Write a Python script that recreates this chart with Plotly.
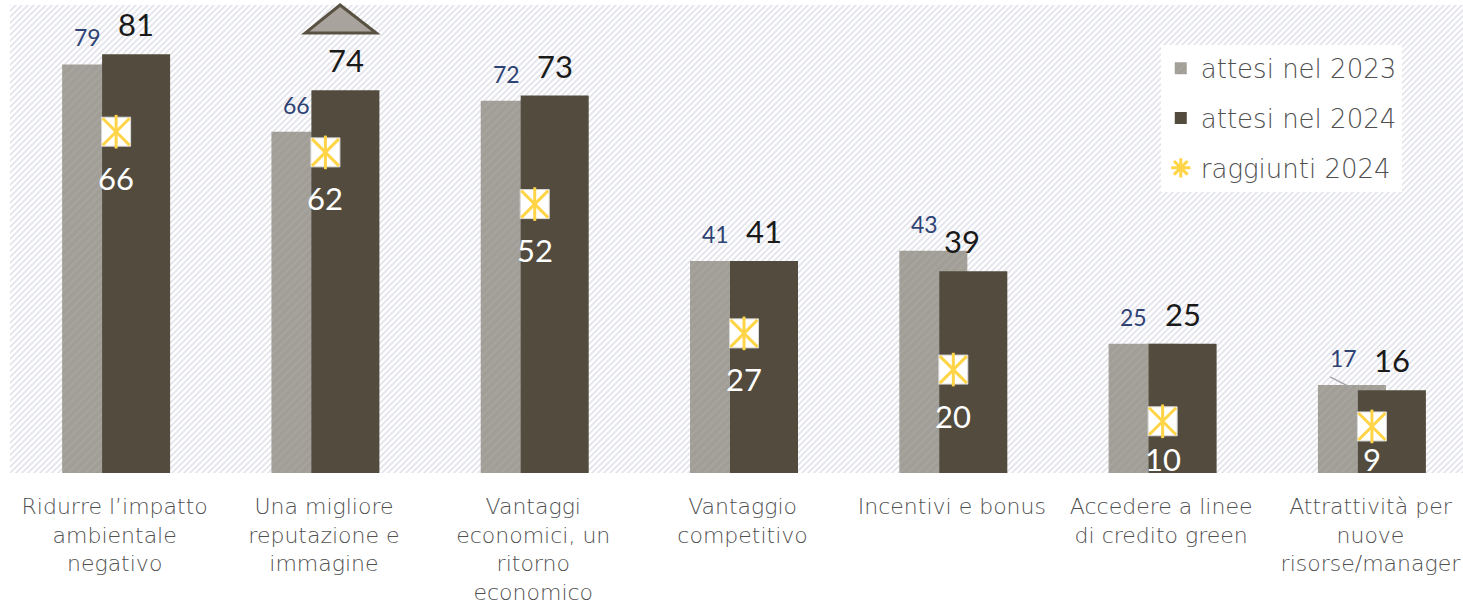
import base64
import plotly.graph_objects as go

categories = [
    "Ridurre l’impatto<br>ambientale<br>negativo",
    "Una migliore<br>reputazione e<br>immagine",
    "Vantaggi<br>economici, un<br>ritorno<br>economico",
    "Vantaggio<br>competitivo",
    "Incentivi e bonus",
    "Accedere a linee<br>di credito green",
    "Attrattività per<br>nuove<br>risorse/manager",
]
attesi_2023 = [79, 66, 72, 41, 43, 25, 17]
attesi_2024 = [81, 74, 73, 41, 39, 25, 16]
raggiunti_2024 = [66, 62, 52, 27, 20, 10, 9]

NUMFONT = "Lato"
TXTFONT = "DejaVu Sans"
GRAY = "#A19E97"
DARK = "#524B3E"
YELLOW = "#FFD447"
TXT = "#505050"
BLUE = "#2E4374"

PX_PER_UNIT = 468 / 90.5
xs = list(range(len(categories)))

# background hatch image
W, H = 1453, 468
svg = f'''<svg xmlns="http://www.w3.org/2000/svg" width="{W}" height="{H}">
<defs><pattern id="p" patternUnits="userSpaceOnUse" width="6" height="6">
<rect width="6" height="6" fill="white"/>
<path d="M-1,1 L1,-1 M0,6 L6,0 M5,7 L7,5" stroke="#E2E3EB" stroke-width="1.6"/>
</pattern></defs>
<rect width="{W}" height="{H}" fill="url(#p)"/></svg>'''
src = "data:image/svg+xml;base64," + base64.b64encode(svg.encode()).decode()

fig = go.Figure()
fig.add_trace(go.Bar(
    x=xs, y=attesi_2023, name="attesi nel 2023", offset=-0.251, width=0.325,
    marker=dict(color=GRAY, line=dict(width=0),
                pattern=dict(shape="/", fgcolor="#AEABA5", bgcolor=GRAY, size=6, solidity=0.3)),
    legendgroup="a",
))
fig.add_trace(go.Bar(
    x=xs, y=attesi_2024, name="attesi nel 2024", offset=-0.06, width=0.325,
    marker=dict(color=DARK, line=dict(width=0)), legendgroup="b",
))
mx = [x + 0.007 for x in xs]
fig.add_trace(go.Scatter(
    x=mx, y=raggiunti_2024, mode="markers", showlegend=False,
    marker=dict(symbol="square", size=29, color="white", line=dict(color="#D9D9D9", width=1)),
))
fig.add_trace(go.Scatter(
    x=mx, y=raggiunti_2024, mode="markers", showlegend=False,
    marker=dict(symbol="x-thin-open", size=27, color=YELLOW, line=dict(color=YELLOW, width=3)),
))
fig.add_trace(go.Scatter(
    x=mx, y=raggiunti_2024, mode="markers", showlegend=False,
    marker=dict(symbol="line-ns-open", size=24, color=YELLOW, line=dict(color=YELLOW, width=3)),
))
fig.add_trace(go.Scatter(
    x=[None], y=[None], mode="markers", name="raggiunti 2024", legendgroup="c",
    marker=dict(symbol="asterisk-open", size=18, color=YELLOW, line=dict(color=YELLOW, width=3)),
))

ann = []
for i in xs:
    taller_prev = attesi_2023[i] > attesi_2024[i] + 2
    dx = -0.055 if taller_prev else 0.0
    ann.append(dict(x=i - 0.13, y=attesi_2023[i], text=str(attesi_2023[i]), showarrow=False,
                    yshift=27, font=dict(family=NUMFONT, size=23, color=BLUE)))
    ann.append(dict(x=i + 0.103 + dx, y=attesi_2024[i], text=str(attesi_2024[i]), showarrow=False,
                    yshift=30, font=dict(family=NUMFONT, size=31, color="#1A1A1A")))
    drop = min(46, raggiunti_2024[i] * PX_PER_UNIT - 14)
    ann.append(dict(x=i + 0.007, y=raggiunti_2024[i], text=str(raggiunti_2024[i]), showarrow=False,
                    yshift=-drop, font=dict(family=NUMFONT, size=31, color="white")))

shapes = [
    dict(type="path", xref="x", yref="paper",
         path="M 0.91 0.94 L 1.077 1.0 L 1.25 0.94 Z",
         fillcolor="#A8A49D", line=dict(color="#595243", width=3), layer="above"),
    dict(type="line", xref="x", yref="y", x0=5.807, y0=18.6, x1=5.912, y1=16.4,
         line=dict(color="#A6A6A6", width=1.5), layer="above"),
]

fig.update_layout(
    width=1463, height=604,
    margin=dict(l=10, r=0, t=5, b=131, autoexpand=False),
    paper_bgcolor="white", plot_bgcolor="rgba(0,0,0,0)",
    barmode="overlay",
    font=dict(family=TXTFONT, color=TXT),
    images=[dict(source=src, xref="paper", yref="paper", x=0, y=1, sizex=1, sizey=1,
                 sizing="stretch", layer="below", xanchor="left", yanchor="top")],
    xaxis=dict(range=[-0.5, -0.5 + 1453 / 209.3], tickvals=xs, ticktext=categories,
               showgrid=False, zeroline=False, showline=False, ticks="", automargin=False,
               tickfont=dict(family=TXTFONT, size=22, color=TXT, weight=300),
               tickangle=0, ticklabelstandoff=18),
    yaxis=dict(range=[0, 90.5], visible=False, showgrid=False, automargin=False),
    legend=dict(x=0.792, y=0.915, xanchor="left", yanchor="top", bgcolor="white",
                font=dict(family=TXTFONT, size=26, color=TXT, weight=300), traceorder="grouped",
                tracegroupgap=13, itemwidth=30),
    annotations=ann, shapes=shapes,
)

fig.write_html("out.html", post_script="document.body.style.margin='0';",
               config={"displayModeBar": False})
